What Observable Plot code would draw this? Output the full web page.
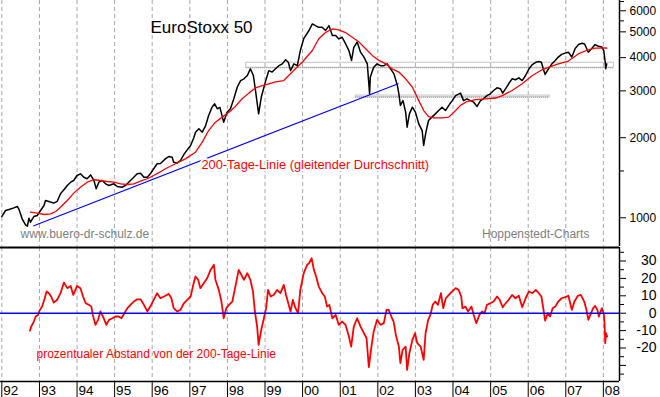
<!DOCTYPE html>
<html><head><meta charset="utf-8">
<script src="https://cdn.jsdelivr.net/npm/d3@7"></script>
<script src="https://cdn.jsdelivr.net/npm/@observablehq/plot@0.6"></script>
<style>body{margin:0;background:#fff} #chart svg{display:block}</style>
</head><body><div id="chart"></div>
<script>
// ---- data (decimal years, index points, percent) ----
const priceYear = [1992.00,1992.10,1992.19,1992.32,1992.41,1992.45,1992.54,1992.63,1992.68,1992.72,1992.76,1992.85,1992.94,1993.03,1993.12,1993.16,1993.25,1993.38,1993.47,1993.56,1993.65,1993.74,1993.83,1993.91,1994.00,1994.09,1994.18,1994.27,1994.36,1994.45,1994.51,1994.58,1994.67,1994.76,1994.85,1994.98,1995.07,1995.20,1995.29,1995.42,1995.51,1995.60,1995.69,1995.78,1995.87,1995.95,1996.04,1996.13,1996.22,1996.35,1996.44,1996.53,1996.57,1996.66,1996.75,1996.84,1996.93,1997.02,1997.11,1997.15,1997.24,1997.33,1997.42,1997.50,1997.59,1997.66,1997.73,1997.80,1997.90,1997.99,1998.08,1998.17,1998.26,1998.35,1998.44,1998.53,1998.61,1998.69,1998.74,1998.83,1998.90,1999.01,1999.10,1999.19,1999.28,1999.37,1999.46,1999.55,1999.62,1999.68,1999.77,1999.86,1999.94,2000.03,2000.17,2000.26,2000.34,2000.43,2000.52,2000.61,2000.70,2000.79,2000.88,2000.96,2001.05,2001.14,2001.23,2001.30,2001.36,2001.45,2001.54,2001.63,2001.72,2001.78,2001.80,2001.89,2001.98,2002.07,2002.16,2002.25,2002.34,2002.43,2002.52,2002.56,2002.60,2002.67,2002.74,2002.78,2002.84,2002.92,2003.00,2003.09,2003.18,2003.22,2003.28,2003.35,2003.44,2003.53,2003.62,2003.71,2003.80,2003.89,2003.98,2004.07,2004.20,2004.28,2004.37,2004.46,2004.55,2004.64,2004.73,2004.81,2004.90,2004.99,2005.08,2005.17,2005.26,2005.32,2005.40,2005.48,2005.57,2005.66,2005.75,2005.84,2005.93,2006.02,2006.11,2006.20,2006.28,2006.35,2006.40,2006.45,2006.54,2006.63,2006.72,2006.80,2006.89,2006.98,2007.07,2007.16,2007.25,2007.34,2007.43,2007.50,2007.60,2007.69,2007.78,2007.87,2007.96,2008.01,2008.05,2008.06,2008.09];
const priceValue = [1011,1065,1074,1090,1103,1081,991,941,930,997,963,1011,1020,1065,1112,1162,1152,1135,1152,1231,1274,1323,1361,1381,1442,1463,1421,1402,1450,1381,1285,1361,1381,1342,1323,1342,1311,1303,1323,1381,1421,1463,1471,1421,1421,1463,1529,1596,1600,1665,1700,1690,1618,1605,1642,1729,1800,1870,2007,2098,2161,2098,2222,2424,2605,2682,2570,2600,2288,2495,2570,2801,3096,3280,3330,3427,3631,3427,3058,2459,2838,3243,3574,3530,3631,3730,3790,3926,3843,3574,3790,3730,4253,4713,5059,5355,5277,5200,5200,5059,5277,4840,4840,4703,4773,4512,4253,3905,4370,4576,4193,4020,3790,2925,3385,3679,3790,3730,3730,3790,3631,3475,3140,2925,2645,2757,2495,2190,2459,2605,2495,2255,2128,1870,2098,2321,2390,2459,2530,2605,2530,2645,2757,2880,2942,2757,2801,2757,2720,2622,2757,2801,2880,2925,3010,3080,3058,2942,3058,3190,3330,3304,3358,3280,3427,3631,3767,3843,3870,3843,3631,3457,3631,3790,3905,4020,4115,4160,4193,4020,4329,4480,4530,4500,4193,4329,4480,4410,4390,4253,3843,3631,3790];

const maYear = [1992.76,1992.94,1993.12,1993.30,1993.43,1993.56,1993.74,1993.91,1994.09,1994.27,1994.45,1994.62,1994.80,1994.98,1995.16,1995.34,1995.51,1995.69,1995.87,1996.04,1996.20,1996.35,1996.62,1996.88,1997.15,1997.33,1997.50,1997.68,1997.86,1998.04,1998.21,1998.39,1998.57,1998.75,1998.93,1999.10,1999.28,1999.50,1999.63,1999.81,1999.99,2000.16,2000.26,2000.43,2000.61,2000.79,2000.96,2001.14,2001.32,2001.50,2001.67,2001.85,2002.03,2002.21,2002.38,2002.56,2002.74,2002.92,2003.09,2003.22,2003.35,2003.49,2003.71,2003.89,2004.07,2004.20,2004.37,2004.60,2004.86,2005.13,2005.31,2005.57,2005.84,2006.11,2006.38,2006.54,2006.80,2007.07,2007.34,2007.60,2007.78,2008.05,2008.09];
const maValue = [1050,1041,1029,1035,1056,1096,1162,1238,1303,1361,1390,1381,1369,1361,1342,1334,1342,1373,1402,1442,1484,1529,1596,1665,1764,1925,2128,2288,2390,2495,2622,2801,2942,3080,3140,3190,3243,3280,3427,3631,3843,4100,4253,4713,4970,5129,5085,4970,4770,4576,4329,4078,3905,3790,3631,3530,3330,3096,2757,2530,2401,2376,2376,2390,2530,2645,2735,2780,2801,2820,2880,3010,3190,3427,3609,3679,3790,3882,4139,4282,4340,4353,4340];

const devYear = [1992.75,1992.78,1992.85,1992.90,1992.96,1993.01,1993.07,1993.14,1993.19,1993.25,1993.31,1993.38,1993.47,1993.56,1993.65,1993.74,1993.83,1993.90,1994.00,1994.09,1994.16,1994.23,1994.32,1994.38,1994.42,1994.49,1994.56,1994.62,1994.71,1994.78,1994.85,1994.94,1995.02,1995.11,1995.18,1995.26,1995.34,1995.42,1995.51,1995.60,1995.69,1995.78,1995.87,1995.95,1996.04,1996.13,1996.22,1996.35,1996.44,1996.51,1996.57,1996.66,1996.75,1996.84,1996.93,1997.02,1997.08,1997.15,1997.22,1997.28,1997.37,1997.46,1997.55,1997.64,1997.68,1997.77,1997.84,1997.90,1997.97,1998.04,1998.13,1998.22,1998.30,1998.37,1998.44,1998.53,1998.61,1998.68,1998.73,1998.79,1998.83,1998.90,1998.97,1999.03,1999.08,1999.15,1999.23,1999.32,1999.41,1999.50,1999.56,1999.63,1999.68,1999.74,1999.81,1999.88,1999.94,2000.03,2000.12,2000.17,2000.24,2000.30,2000.36,2000.43,2000.52,2000.59,2000.65,2000.71,2000.79,2000.88,2000.96,2001.05,2001.14,2001.23,2001.29,2001.36,2001.45,2001.54,2001.63,2001.70,2001.76,2001.83,2001.89,2001.98,2002.07,2002.16,2002.23,2002.29,2002.36,2002.42,2002.48,2002.56,2002.60,2002.66,2002.74,2002.78,2002.84,2002.92,2002.99,2003.05,2003.14,2003.22,2003.27,2003.34,2003.40,2003.46,2003.53,2003.60,2003.68,2003.74,2003.81,2003.89,2003.98,2004.07,2004.15,2004.22,2004.25,2004.33,2004.40,2004.49,2004.55,2004.62,2004.70,2004.77,2004.84,2004.90,2004.99,2005.08,2005.17,2005.24,2005.32,2005.40,2005.48,2005.57,2005.66,2005.75,2005.84,2005.93,2006.02,2006.11,2006.20,2006.28,2006.35,2006.40,2006.45,2006.52,2006.58,2006.65,2006.72,2006.80,2006.89,2006.98,2007.07,2007.16,2007.23,2007.32,2007.40,2007.49,2007.55,2007.60,2007.67,2007.73,2007.78,2007.84,2007.88,2007.96,2008.01,2008.03,2008.05,2008.07,2008.10];
const devValue = [-10.0,-7.7,-4.8,-1.9,-1.0,1.9,3.8,8.6,12.5,11.5,9.6,6.1,7.7,11.5,17.6,14.4,15.7,10.5,15.7,14.4,9.6,5.7,4.8,3.8,-1.0,-6.7,-3.8,1.0,-2.9,-6.7,-3.8,-2.9,-1.9,-1.9,-2.9,0,2.9,4.8,6.7,8.0,8.0,4.8,1.0,3.8,7.7,11.5,8.6,10.0,11.1,8.6,2.9,1.0,1.9,5.7,7.7,9.6,15.3,21.1,19.2,14.4,17.2,20.1,24.9,27.8,19.2,13.4,6.7,-2.9,2.9,4.8,6.7,16.3,24.9,22.0,19.2,23.0,19.2,12.5,1.0,-7.7,-18.2,-9.6,-2.9,2.9,13.4,9.6,10.5,13.4,11.5,16.3,10.5,4.8,1.0,7.7,2.9,0,13.4,23.0,27.8,28.7,31.6,24.9,21.1,15.3,11.5,9.6,3.8,4.8,-2.9,-1.0,-6.7,-4.8,-6.7,-13.4,-19.2,-7.7,-2.9,-7.7,-11.5,-14.4,-31.0,-19.2,-10.5,-3.8,-6.7,-5.7,1.9,1.9,-1.9,-4.8,-12.5,-19.2,-28.7,-21.1,-19.2,-32.6,-23.0,-15.3,-11.5,-17.2,-19.2,-26.8,-11.5,-3.8,-1.0,4.8,6.7,4.8,11.5,2.9,8.6,10.5,12.5,14.4,13.4,9.6,2.9,3.8,1.0,3.8,-1.0,-5.7,-1.0,1.0,0,4.8,5.7,6.7,9.6,7.7,3.4,5.7,7.7,10.5,8.6,10.0,3.4,8.6,12.5,11.5,13.4,11.5,9.6,2.9,-4.2,0,-1.9,2.9,3.8,6.7,8.6,9.2,10.0,1.9,6.7,10.0,10.5,6.7,1.9,-3.8,0,2.9,4.2,1.9,-1.9,2.9,0,-5.7,-17.2,-11.5,-13.4];

// trend line (two touch points) and grey support zones
const trendYear = [1992.85, 2002.54];
const trendValue = [933, 3190];
const zoneStart = [1998.50, 2001.41];
const zoneEnd = [2008.28, 2006.57];
const zoneHigh = [3826, 2880];
const zoneLow = [3664, 2840];

const upperTicks = [1000, 2000, 3000, 4000, 5000, 6000];
const upperMinorTicks = [1500, 5500, 6500];
const lowerTicks = [-30, -20, -10, 0, 10, 20, 30];
const lowerMinorTicks = [-35, -25, -15, -5, 5, 15, 25, 35];
const yearList = d3.range(1992, 2009);

const titleText = "EuroStoxx 50";
const maLabel = "200-Tage-Linie (gleitender Durchschnitt)";
const sourceLeft = "www.buero-dr-schulz.de";
const sourceRight = "Hoppenstedt-Charts";
const devLabel = "prozentualer Abstand von der 200-Tage-Linie";

// ---- helpers ----
function toDate(v) {
  const y = Math.floor(v);
  const a = Date.UTC(y, 0, 1), b = Date.UTC(y + 1, 0, 1);
  return new Date(a + (v - y) * (b - a));
}
const zip = (ts, vs) => ts.map((t, i) => ({date: toDate(t), value: vs[i]}));
const price = zip(priceYear, priceValue);
const ma = zip(maYear, maValue);
const dev = zip(devYear, devValue);
const trend = zip(trendYear, trendValue);
const zones = zoneStart.map((s, i) => ({x1: toDate(s), x2: toDate(zoneEnd[i]), hi: zoneHigh[i], lo: zoneLow[i]}));
const years = yearList.map(y => new Date(Date.UTC(y, 0, 1)));

const xDomain = [toDate(1991.9654), toDate(2008.4282)];
const upperDomain = [780, 6559];
const lowerDomain = [-39.25, 37.76];
const font = "'Liberation Sans', Arial, Helvetica, sans-serif";
const grid = {stroke: "#a8a8a8", strokeDasharray: "4,3", strokeWidth: 1};

const upper = Plot.plot({
  width: 660, height: 246,
  marginLeft: 0, marginRight: 41, marginTop: 0, marginBottom: 0,
  style: {fontFamily: font, fontSize: "12px", background: "#fff", overflow: "visible"},
  x: {type: "utc", domain: xDomain, axis: null},
  y: {type: "log", domain: upperDomain, axis: null},
  marks: [
    Plot.ruleX(years, grid),
    Plot.rect(zones, {x1: "x1", x2: "x2", y1: "lo", y2: "hi", fill: "none", stroke: "#c4c4c4", strokeWidth: 1}),
    Plot.ruleY(zones, {x1: "x1", x2: "x2", y: "lo", stroke: "#888", strokeDasharray: "1,1", strokeWidth: 1}),
    Plot.line(price, {x: "date", y: "value", stroke: "#000", strokeWidth: 1.5}),
    Plot.line(ma, {x: "date", y: "value", stroke: "#ff0000", strokeWidth: 1.3}),
    Plot.line(trend, {x: "date", y: "value", stroke: "#0000ff", strokeWidth: 1.2}),
    Plot.text([titleText], {text: d => d, frameAnchor: "top-left", textAnchor: "start", lineAnchor: "top", dx: 150, dy: 20, fontSize: 17, fill: "#000"}),
    Plot.text([maLabel], {text: d => d, frameAnchor: "top-left", textAnchor: "start", lineAnchor: "top", dx: 201, dy: 159, fontSize: 12.8, fill: "#ff0000", stroke: "#fff", strokeWidth: 4}),
    Plot.text([sourceLeft], {text: d => d, frameAnchor: "top-left", textAnchor: "start", lineAnchor: "top", dx: 20, dy: 228.5, fontSize: 12, fill: "#808080"}),
    Plot.text([sourceRight], {text: d => d, frameAnchor: "top-left", textAnchor: "start", lineAnchor: "top", dx: 481.5, dy: 228.5, fontSize: 12, fill: "#808080"}),
    Plot.ruleX([xDomain[1]], {stroke: "#000", strokeWidth: 1.5}),
    Plot.axisY({anchor: "right", label: null, ticks: upperTicks, tickSize: 6, tickPadding: 4, tickFormat: d => String(d), fontSize: 12, stroke: "#000", fill: "#000"}),
    Plot.axisY({anchor: "right", label: null, ticks: upperMinorTicks, tickSize: 4, tickFormat: () => "", stroke: "#000"})
  ]
});

const lower = Plot.plot({
  width: 660, height: 151,
  marginLeft: 0, marginRight: 41, marginTop: 1, marginBottom: 16,
  style: {fontFamily: font, fontSize: "12px", background: "#fff", overflow: "visible"},
  x: {type: "utc", domain: xDomain, axis: null},
  y: {domain: lowerDomain, axis: null},
  marks: [
    Plot.ruleX(years, grid),
    Plot.line(dev, {x: "date", y: "value", stroke: "#ff0000", strokeWidth: 1.8}),
    Plot.ruleY([0], {stroke: "#0000ff", strokeWidth: 1.4}),
    Plot.ruleY([lowerDomain[1]], {stroke: "#000", strokeWidth: 2}),
    Plot.ruleY([lowerDomain[0]], {stroke: "#000", strokeWidth: 1.6}),
    Plot.ruleX(years, {y1: lowerDomain[0], y2: lowerDomain[0] - 9.3, stroke: "#000", strokeWidth: 1}),
    Plot.text(years, {x: d => d, text: d => String(d.getUTCFullYear()).slice(2), frameAnchor: "bottom", textAnchor: "start", lineAnchor: "middle", dx: 1.5, dy: 9, fontSize: 13.5, fill: "#000"}),
    Plot.text([devLabel], {text: d => d, frameAnchor: "top-left", textAnchor: "start", lineAnchor: "top", dx: 36, dy: 101.5, fontSize: 12, letterSpacing: "0.35px", fill: "#ff0000"}),
    Plot.ruleX([xDomain[1]], {stroke: "#000", strokeWidth: 1.5}),
    Plot.axisY({anchor: "right", label: null, ticks: lowerTicks, tickSize: 6, tickPadding: 31, textAnchor: "end", tickFormat: d => d === -30 ? "" : String(d), fontSize: 14, stroke: "#000", fill: "#000"}),
    Plot.axisY({anchor: "right", label: null, ticks: lowerMinorTicks, tickSize: 4, tickFormat: () => "", stroke: "#000"})
  ]
});

const root = document.getElementById("chart");
root.appendChild(upper);
root.appendChild(lower);
</script>
</body></html>
